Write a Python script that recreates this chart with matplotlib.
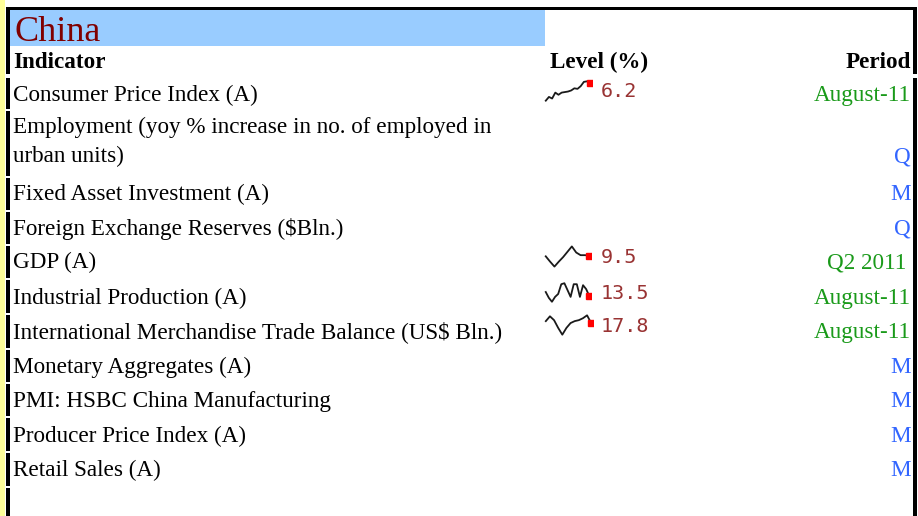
import matplotlib
matplotlib.use("Agg")
import matplotlib.pyplot as plt
from matplotlib.patches import Rectangle

W, H = 918, 516

# ---------------- data ----------------
title = "China"
headers = ["Indicator", "Level (%)", "Period"]
indicators = [
    "Consumer Price Index (A)",
    "Employment (yoy % increase in no. of employed in\nurban units)",
    "Fixed Asset Investment (A)",
    "Foreign Exchange Reserves ($Bln.)",
    "GDP (A)",
    "Industrial Production (A)",
    "International Merchandise Trade Balance (US$ Bln.)",
    "Monetary Aggregates (A)",
    "PMI: HSBC China Manufacturing",
    "Producer Price Index (A)",
    "Retail Sales (A)",
]
periods = ["August-11", "Q", "M", "Q", "Q2 2011", "August-11", "August-11",
           "M", "M", "M", "M"]
levels = ["6.2", None, None, None, "9.5", "13.5", "17.8", None, None, None, None]

cpi_spark = [2.9, 3.6, 3.3, 4.4, 4.0, 4.4, 4.5, 4.6, 4.8, 5.2, 5.1, 5.6, 6.4, 6.5, 6.2]
gdp_spark = [9.3, 7.9, 6.6, 7.9, 9.1, 10.5, 11.9, 10.3, 9.6, 9.6, 9.5]
ip_spark = [13.9, 13.3, 12.9, 13.4, 13.7, 14.7, 14.8, 14.1, 13.4, 14.7, 14.7,
            13.4, 14.6, 14.2, 13.5]
trade_spark = [20.8, 28.3, 22.3, 10.3, -0.2, 10.3, 17.8, 20.8, 22.3, 25.3, 29.8, 17.8]
sparks = {0: cpi_spark, 4: gdp_spark, 5: ip_spark, 6: trade_spark}

# ---------------- layout (pixels) ----------------
row_tops = [78, 111, 178, 212, 246, 280, 315, 350, 384, 418, 453, 488]
row_bottoms = [109, 176, 210, 244, 278, 313, 348, 382, 416, 451, 486, 516]
baselines = [101, 162, 200, 235, 268, 304, 338, 373, 407, 442, 476]
spark_boxes = {0: (544, 79, 48, 24), 4: (544, 244, 47, 25),
               5: (544, 281, 47, 23), 6: (544, 313, 49, 24)}
level_base = {0: 97, 4: 263, 5: 299, 6: 332}

SERIF = ["Liberation Serif", "DejaVu Serif"]
FS = 16.7
GREEN = "#1a9a1a"
BLUE = "#3366ff"
RED_TXT = "#993333"

fig = plt.figure(figsize=(W / 100, H / 100), dpi=100)
ax = fig.add_axes([0, 0, 1, 1])
ax.set_xlim(0, W)
ax.set_ylim(H, 0)
ax.axis("off")

# yellow stripe
ax.add_patch(Rectangle((0, 0), 5, H, color="#ffff99", lw=0))
# title background
ax.add_patch(Rectangle((9, 10), 536, 36, color="#99ccff", lw=0))
# top border
ax.add_patch(Rectangle((6, 7), 911, 3, color="black", lw=0))
# header block left/right borders
ax.add_patch(Rectangle((6, 7), 3.5, 67, color="black", lw=0))
ax.add_patch(Rectangle((913, 7), 4, 67, color="black", lw=0))
# row left bars and right border
for t, b in zip(row_tops, row_bottoms):
    ax.add_patch(Rectangle((6, t), 3.5, b - t, color="black", lw=0))
ax.add_patch(Rectangle((913, 78), 4, H - 78, color="black", lw=0))

ax.text(15, 41, title, family=SERIF, fontsize=26, color="#800000", va="baseline")
ax.text(13, 68, headers[0], family=SERIF, fontsize=FS, weight="bold", va="baseline")
ax.text(550, 68, headers[1], family=SERIF, fontsize=FS, weight="bold", va="baseline")
ax.text(911, 68, headers[2], family=SERIF, fontsize=FS, weight="bold", va="baseline",
        ha="right")

for i, (name, per, lev) in enumerate(zip(indicators, periods, levels)):
    bl = baselines[i]
    lines = name.split("\n")
    for k, ln in enumerate(lines):
        y = bl - 29 * (len(lines) - 1 - k)
        ax.text(13, y, ln, family=SERIF, fontsize=FS, va="baseline")
    col = BLUE if len(per) == 1 else GREEN
    xr = 906 if per.startswith("Q2") else 911
    ax.text(xr, bl, per, family=SERIF, fontsize=FS, color=col, va="baseline", ha="right")
    if lev is not None:
        ax.text(601, level_base[i], lev, family=["DejaVu Sans Mono"],
                fontsize=14.5, color=RED_TXT, va="baseline")
    if i in sparks:
        x0, y0, w, h = spark_boxes[i]
        sax = fig.add_axes([x0 / W, 1 - (y0 + h) / H, w / W, h / H])
        vals = sparks[i]
        xs = list(range(len(vals)))
        sax.plot(xs, vals, color="#1a1a1a", lw=1.3)
        sax.plot(xs[-1:], vals[-1:], marker="s", ms=5, color="red", mec="red", lw=0)
        sax.margins(x=0.04, y=0.12)
        sax.axis("off")

fig.savefig("out.png", dpi=100)
